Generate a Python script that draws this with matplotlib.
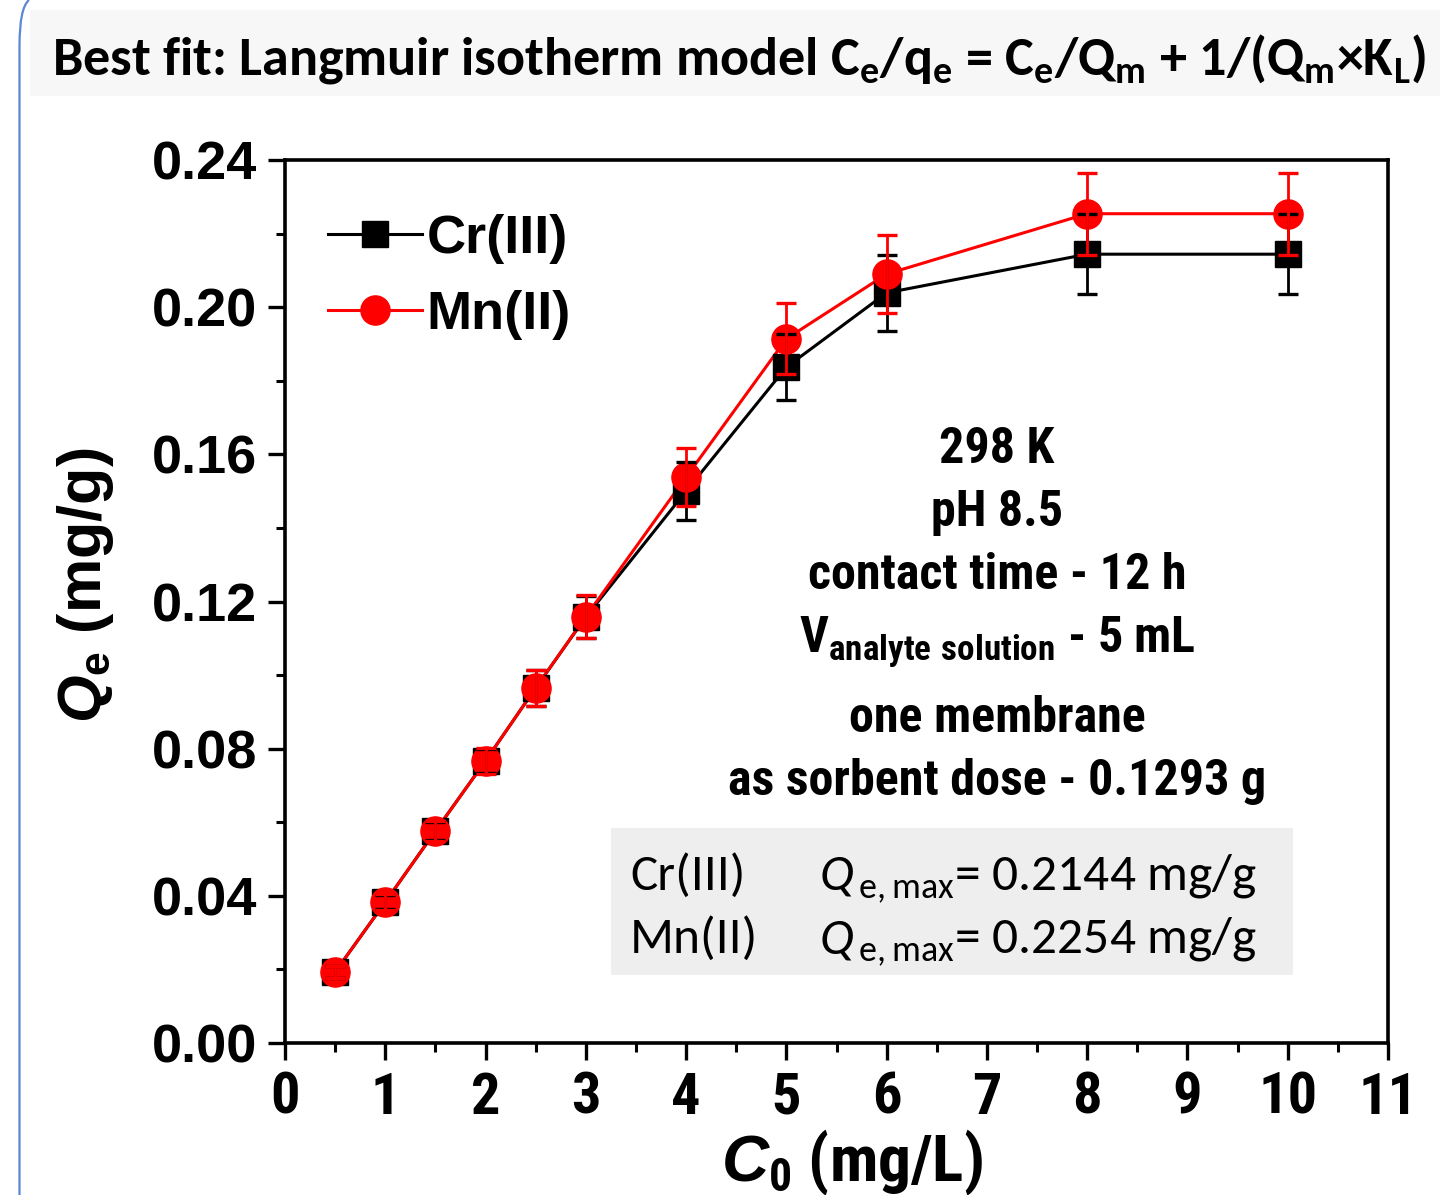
import numpy as np
import matplotlib
matplotlib.use('Agg')
import matplotlib.pyplot as plt
from matplotlib import font_manager as fm
from matplotlib.font_manager import FontProperties
from matplotlib.patches import Rectangle, PathPatch
from matplotlib.path import Path
from matplotlib.lines import Line2D
from matplotlib.ticker import MultipleLocator, FormatStrFormatter

# ---------------- data ----------------
C0 = [0.5, 1, 1.5, 2, 2.5, 3, 4, 5, 6, 8, 10]
Cr = [0.0193, 0.0383, 0.0576, 0.0767, 0.0965, 0.1158, 0.1500, 0.1837, 0.2039, 0.2144, 0.2144]
Cr_err = [0.0015, 0.0020, 0.0025, 0.0033, 0.0049, 0.0057, 0.0078, 0.0090, 0.0103, 0.0108, 0.0108]
Mn = [0.0193, 0.0383, 0.0576, 0.0767, 0.0965, 0.1159, 0.1538, 0.1914, 0.2090, 0.2254, 0.2254]
Mn_err = [0.0017, 0.0022, 0.0027, 0.0035, 0.0050, 0.0058, 0.0078, 0.0096, 0.0105, 0.0112, 0.0112]
series_labels = ['Cr(III)', 'Mn(II)']
xticks = list(range(0, 12))
yticks = [0.00, 0.04, 0.08, 0.12, 0.16, 0.20, 0.24]
cond_lines = ['298 K', 'pH 8.5', 'contact time - 12 h',
              r'V$_\mathregular{analyte\ solution}$ - 5 mL',
              'one membrane', 'as sorbent dose - 0.1293 g']
qmax_vals = ['0.2144', '0.2254']

# ---------------- fonts ----------------
names = {f.name for f in fm.fontManager.ttflist}
def pick(cands):
    for c in cands:
        if c in names:
            return c
    return 'DejaVu Sans'
ARIAL = pick(['Liberation Sans', 'Arial'])
NARROW = pick(['Liberation Sans Narrow', 'Arial Narrow', 'Roboto Condensed',
               'DejaVu Sans Condensed', 'Liberation Sans'])
CALIBRI = pick(['Carlito', 'Calibri', 'Lato', 'Open Sans'])

plt.rcParams['mathtext.fontset'] = 'custom'
plt.rcParams['mathtext.it'] = f'{ARIAL}:italic:bold'
plt.rcParams['mathtext.rm'] = ARIAL
plt.rcParams['mathtext.bf'] = f'{ARIAL}:bold'

W, H = 1440, 1195
fig = plt.figure(figsize=(W / 100, H / 100), dpi=100)
def fx(x): return x / W
def fy(y): return 1 - y / H

# title band
fig.patches.append(Rectangle((fx(30), fy(96)), fx(1440) - fx(30), fy(10) - fy(96),
                             transform=fig.transFigure, facecolor='#F7F7F7',
                             edgecolor='none', zorder=0))
fig.text(fx(52), fy(74),
         r'Best fit: Langmuir isotherm model C$_\mathregular{e}$/q$_\mathregular{e}$ = '
         r'C$_\mathregular{e}$/Q$_\mathregular{m}$ + 1/(Q$_\mathregular{m}$×K$_\mathregular{L}$)',
         family=CALIBRI, weight='bold', fontsize=39, ha='left', va='baseline')

# blue border on the left
verts = [(fx(19.5), fy(1195)), (fx(19.5), fy(45)), (fx(19.5), fy(8)), (fx(29), fy(0))]
codes = [Path.MOVETO, Path.LINETO, Path.CURVE3, Path.CURVE3]
fig.patches.append(PathPatch(Path(verts, codes), transform=fig.transFigure,
                             facecolor='none', edgecolor='#5B87D6', lw=1.6))

# axes
ax = fig.add_axes([fx(285), fy(1043), fx(1388) - fx(285), fy(160) - fy(1043)])
ax.set_xlim(0, 11)
ax.set_ylim(0, 0.24)

ax.plot(C0, Cr, '-', color='black', lw=2.2, zorder=2)
ax.plot(C0, Mn, '-', color='red', lw=2.2, zorder=3)
ax.plot(C0, Cr, 's', color='black', ms=18.5, zorder=4, clip_on=False)
ax.plot(C0, Mn, 'o', color='red', ms=21, zorder=5, clip_on=False)
ax.errorbar(C0, Cr, yerr=Cr_err, fmt='none', ecolor='black', elinewidth=2.0,
            capsize=7, capthick=2.4, zorder=6, clip_on=False)
ax.errorbar(C0, Mn, yerr=Mn_err, fmt='none', ecolor='red', elinewidth=2.0,
            capsize=7, capthick=2.4, zorder=7, clip_on=False)

for s in ax.spines.values():
    s.set_linewidth(2.6)
ax.set_xticks(xticks)
ax.set_yticks(yticks)
ax.xaxis.set_minor_locator(MultipleLocator(0.5))
ax.yaxis.set_minor_locator(MultipleLocator(0.02))
ax.yaxis.set_major_formatter(FormatStrFormatter('%.2f'))
ax.tick_params(which='major', direction='out', length=12, width=2.4,
               top=False, right=False)
ax.tick_params(which='minor', direction='out', length=6.5, width=2.2,
               top=False, right=False)
ax.tick_params(axis='y', which='major', pad=8)
ax.tick_params(axis='x', which='major', pad=8)
for lab in ax.get_yticklabels():
    lab.set_fontproperties(FontProperties(family=ARIAL, weight='bold', size=39))
for lab in ax.get_xticklabels():
    lab.set_fontproperties(FontProperties(family=NARROW, weight='bold', size=42))

# axis labels
fig.text(fx(852), fy(1181), r'$\mathit{C}_\mathregular{0}$ (mg/L)',
         family=NARROW, weight='bold', fontsize=47, ha='center', va='baseline')
fig.text(fx(86), fy(585), r'$\mathit{Q}_\mathregular{e}$ (mg/g)',
         family=ARIAL, weight='bold', fontsize=44, rotation=90,
         ha='center', va='center')

# legend
def ax_xy(px, py):
    return ((px - 285) / (1388 - 285), (1043 - py) / (1043 - 160))
h1 = Line2D([], [], color='black', lw=2.2, marker='s', ms=18.5)
h2 = Line2D([], [], color='red', lw=2.2, marker='o', ms=21)
ax.legend([h1, h2], series_labels, loc='center left', bbox_to_anchor=ax_xy(328, 277),
          frameon=False, prop=FontProperties(family=ARIAL, weight='bold', size=39),
          handlelength=1.74, handletextpad=0.08, labelspacing=0.48,
          borderpad=0, borderaxespad=0)

# experimental conditions
base_y = [463, 526, 589, 652, 732, 795]
for txt, by in zip(cond_lines, base_y):
    fig.text(fx(997), fy(by), txt, family=NARROW, weight='bold', fontsize=36,
             ha='center', va='baseline')

# Qmax box
fig.patches.append(Rectangle((fx(611), fy(975)), fx(1293) - fx(611), fy(828) - fy(975),
                             transform=fig.transFigure, facecolor='#EEEEEE',
                             edgecolor='none', zorder=1))
for lab, val, by in zip(series_labels, qmax_vals, [890, 953]):
    fig.text(fx(630), fy(by), lab, family=CALIBRI, fontsize=37, ha='left',
             va='baseline', zorder=3)
    fig.text(fx(820), fy(by), 'Q', family=CALIBRI, style='italic', fontsize=37,
             ha='left', va='baseline', zorder=3)
    fig.text(fx(858), fy(by), r'$_\mathregular{e,max}$= ' + val + ' mg/g',
             family=CALIBRI, fontsize=37, ha='left', va='baseline', zorder=3)

fig.savefig('out.png', dpi=100)
